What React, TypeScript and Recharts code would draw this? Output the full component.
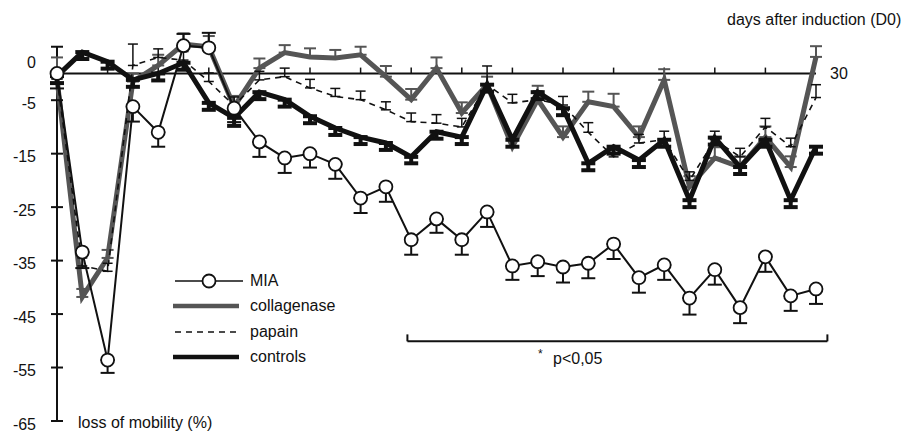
import { LineChart, Line, XAxis, YAxis, ErrorBar, ReferenceLine } from "recharts";

// days after induction
const days = [0, 1, 2, 3, 4, 5, 6, 7, 8, 9, 10, 11, 12, 13, 14, 15, 16, 17, 18, 19, 20, 21, 22, 23, 24, 25, 26, 27, 28, 29, 30];

// loss of mobility (%) per group
const mia = [0, -33.4, -53.6, -6.2, -11, 5.2, 4.8, -6.5, -12.8, -15.8, -15, -17, -23.3, -21.2, -31.1, -27.2, -31.1, -25.9, -36, -35.2, -36.2, -35.5, -31.9, -38.2, -35.8, -42, -36.7, -43.8, -34.3, -41.6, -40.3];
const collagenase = [-1, -41.8, -34.5, -1.5, 1.5, 5.5, 5, -6.2, 1, 3.9, 3.1, 2.9, 3.5, -0.6, -4.9, 1, -7.4, -2.1, -13.7, -4.9, -11.9, -5.3, -6.2, -11.9, -1.2, -21.2, -15.8, -17.5, -11.9, -17.5, 3.1];
const papain = [-1, -36, -37, 1.5, 3, 2.5, -1.5, -6, -1.2, -0.6, -2.7, -4.3, -4.9, -6.8, -9, -9.3, -10, -2.1, -5.5, -4.9, -5.9, -11, -15.6, -13, -12.4, -20, -12.4, -15.6, -10, -13.7, -4.5];
const controls = [-0.5, 4, 2.2, -1.2, 0, 2, -5.5, -8.3, -3.5, -4.9, -8, -10.2, -11.9, -13, -15.6, -10.9, -11.9, -2.1, -12.4, -3.5, -6.5, -16.8, -13.7, -16.2, -12.4, -23.7, -12, -17.5, -12.4, -23.7, -13.7];

// error bars as [below, above]
const miaErr = [[2.8, 0], [3, 0], [2.4, 0], [2.8, 0], [2.7, 0], [0, 2.2], [0, 2.8], [2.6, 0], [2.8, 0], [2.8, 0], [2.6, 0], [2.7, 0], [2.8, 0], [2.8, 0], [2.8, 0], [2.6, 0], [2.8, 0], [2.8, 0], [2.6, 0], [2.7, 0], [2.9, 0], [2.8, 0], [2.8, 0], [2.8, 0], [2.8, 0], [3.1, 0], [2.8, 0], [2.9, 0], [2.8, 0], [2.8, 0], [2.8, 0]];
const collagenaseErr = [4, 1.5, 1.5, 1.5, 2, 2, 2, 2, 1.8, 1.4, 1.6, 1.5, 1.5, 2, 2, 2, 2, 1.5, 2, 2.6, 2, 1.9, 2.4, 2, 2, 2, 2, 2, 2, 2, 2];
const papainErr = [1.5, 1.5, 1.5, 4, 1.6, 1.6, 1.6, 1.6, 1.6, 1.6, 1.6, 1.5, 1.6, 1.5, 1.6, 1.6, 1.6, 3.5, 1.6, 1.6, 1.6, 1.8, 1.6, 1.6, 1.6, 1.6, 1.6, 1.6, 1.6, 1.6, 2.4];
const controlsErr = [1.3, 1.3, 1.3, 1.3, 1.3, 1.3, 1.3, 1.5, 1.3, 1.3, 1.3, 1.3, 1.3, 1.3, 1.2, 1.3, 1.3, 1.3, 1.3, 1.3, 1.3, 1.3, 1.3, 1.3, 1.3, 1.3, 1.3, 1.3, 1.3, 1.3, 1.3];

const yTicks = [5, 0, -5, -15, -25, -35, -45, -55, -65];
const xTickDays = [2, 4, 6, 8, 10, 12, 14, 16, 18, 20, 22, 24, 26, 28];

// significance bracket (days, %)
const bracketFrom = 13.85;
const bracketTo = 30.45;
const bracketY = -50.1;

const data = days.map((day, i) => ({
  day,
  mia: mia[i],
  collagenase: collagenase[i],
  papain: papain[i],
  controls: controls[i],
  miaErr: miaErr[i],
  collagenaseErr: [0, collagenaseErr[i]],
  papainErr: [0, papainErr[i]],
  controlsErr: [controlsErr[i], 0],
}));

const FONT = '"Liberation Sans", Arial, Helvetica, sans-serif';
const INK = "#111";
const GREY = "#555";

function YTick(props: any) {
  const { x, y, payload } = props;
  const v = payload.value;
  return (
    <g>
      {v !== 0 && <line x1={x - 6} x2={x + 6} y1={y} y2={y} stroke={INK} strokeWidth={2} />}
      {v !== 5 && (
        <text x={x - 21} y={v === 0 ? y - 11 : y + 3} textAnchor="end" dominantBaseline="central" fontSize={16} fontFamily={FONT} fill={INK}>
          {v}
        </text>
      )}
    </g>
  );
}

const legendRows = [
  { name: "MIA", top: 281 },
  { name: "collagenase", top: 306 },
  { name: "papain", top: 332 },
  { name: "controls", top: 357 },
];

function LegendSample({ name }: { name: string }) {
  if (name === "MIA") {
    return (
      <svg width={72} height={16}>
        <line x1={2} x2={70} y1={8} y2={8} stroke={INK} strokeWidth={1.6} />
        <circle cx={36} cy={8} r={6.5} fill="#fff" stroke={INK} strokeWidth={1.8} />
      </svg>
    );
  }
  if (name === "papain") {
    return (
      <svg width={72} height={16}>
        <line x1={2} x2={68} y1={8} y2={8} stroke={INK} strokeWidth={1.5} strokeDasharray="6 5" />
      </svg>
    );
  }
  return (
    <svg width={72} height={16}>
      <line x1={0} x2={66} y1={8} y2={8} stroke={name === "controls" ? INK : GREY} strokeWidth={4.5} />
    </svg>
  );
}

export default function App() {
  return (
    <div style={{ position: "absolute", left: 0, top: 0, width: 904, height: 432, background: "#fff", fontFamily: FONT, color: INK }}>
      <LineChart width={904} height={432} data={data} margin={{ top: 20, right: 88, bottom: 11, left: 0 }}>
        <XAxis dataKey="day" type="number" domain={[0, 30]} hide height={0} />
        <YAxis
          type="number"
          domain={[-65, 10]}
          ticks={yTicks}
          interval={0}
          width={57}
          axisLine={false}
          tickLine={false}
          tickSize={0}
          tickMargin={0}
          tick={<YTick />}
        />
        <ReferenceLine segment={[{ x: 0, y: 5 }, { x: 0, y: -65 }]} stroke={INK} strokeWidth={2} ifOverflow="visible" />
        <ReferenceLine
          y={0}
          stroke={INK}
          strokeWidth={2}
          label={{ value: "30", position: "right", offset: 14, fill: INK, fontSize: 16, fontFamily: FONT }}
        />
        {xTickDays.map((d) => (
          <ReferenceLine key={d} segment={[{ x: d, y: 0 }, { x: d, y: 1.1 }]} stroke={INK} strokeWidth={1.5} />
        ))}
        <ReferenceLine segment={[{ x: bracketFrom, y: bracketY }, { x: bracketTo, y: bracketY }]} stroke={INK} strokeWidth={2} ifOverflow="visible" />
        <ReferenceLine segment={[{ x: bracketFrom, y: bracketY }, { x: bracketFrom, y: bracketY + 1.3 }]} stroke={INK} strokeWidth={2} ifOverflow="visible" />
        <ReferenceLine segment={[{ x: bracketTo, y: bracketY }, { x: bracketTo, y: bracketY + 1.3 }]} stroke={INK} strokeWidth={2} ifOverflow="visible" />

        <Line dataKey="collagenase" stroke={GREY} strokeWidth={5} dot={false} activeDot={false} isAnimationActive={false}>
          <ErrorBar dataKey="collagenaseErr" direction="y" width={6} stroke={GREY} strokeWidth={2} />
        </Line>
        <Line dataKey="papain" stroke={INK} strokeWidth={1.6} strokeDasharray="6 5" dot={false} activeDot={false} isAnimationActive={false}>
          <ErrorBar dataKey="papainErr" direction="y" width={5} stroke={INK} strokeWidth={1.5} />
        </Line>
        <Line dataKey="controls" stroke={INK} strokeWidth={5} dot={false} activeDot={false} isAnimationActive={false}>
          <ErrorBar dataKey="controlsErr" direction="y" width={7} stroke={INK} strokeWidth={4} />
        </Line>
        <Line
          dataKey="mia"
          stroke={INK}
          strokeWidth={2}
          dot={{ r: 6.5, fill: "#fff", stroke: INK, strokeWidth: 1.8 }}
          activeDot={false}
          isAnimationActive={false}
        >
          <ErrorBar dataKey="miaErr" direction="y" width={7} stroke={INK} strokeWidth={2} />
        </Line>
      </LineChart>

      <div style={{ position: "absolute", left: 727, top: 11, fontSize: 16, lineHeight: "18px", whiteSpace: "nowrap" }}>
        days after induction (D0)
      </div>
      <div style={{ position: "absolute", left: 78, top: 414, fontSize: 16, lineHeight: "18px", whiteSpace: "nowrap" }}>
        loss of mobility (%)
      </div>
      <div style={{ position: "absolute", left: 538, top: 348, fontSize: 12, lineHeight: "12px" }}>*</div>
      <div style={{ position: "absolute", left: 553, top: 350, fontSize: 16, lineHeight: "18px", whiteSpace: "nowrap" }}>p&lt;0,05</div>

      {legendRows.map((row) => (
        <div key={row.name} style={{ position: "absolute", left: 173, top: row.top - 8, height: 16, display: "flex", alignItems: "center" }}>
          <LegendSample name={row.name} />
          <span style={{ marginLeft: 5, fontSize: 16, lineHeight: "16px", whiteSpace: "nowrap" }}>{row.name}</span>
        </div>
      ))}
    </div>
  );
}
